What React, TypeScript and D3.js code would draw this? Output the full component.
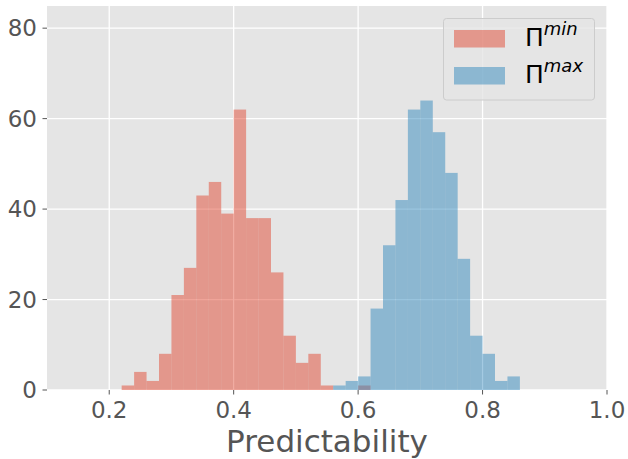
import React from "react";
import * as d3 from "d3";

// Histogram bin starts (bin width 0.02) and counts
const binWidth = 0.02;
const minBinStarts = [0.22, 0.24, 0.26, 0.28, 0.30, 0.32, 0.34, 0.36, 0.38, 0.40, 0.42, 0.44, 0.46, 0.48, 0.50, 0.52, 0.54, 0.56, 0.58, 0.60];
const minCounts = [1, 4, 2, 8, 21, 27, 43, 46, 39, 62, 38, 38, 26, 12, 6, 8, 1, 0, 0, 1];
const maxBinStarts = [0.56, 0.58, 0.60, 0.62, 0.64, 0.66, 0.68, 0.70, 0.72, 0.74, 0.76, 0.78, 0.80, 0.82, 0.84];
const maxCounts = [1, 2, 3, 18, 32, 42, 62, 64, 57, 48, 29, 12, 8, 2, 3];

const xTicks = [0.2, 0.4, 0.6, 0.8, 1.0];
const yTicks = [0, 20, 40, 60, 80];
const xDomain = [0.1, 1.0];
const yDomain = [0, 84.9];
const xLabel = "Predictability";
const seriesNames = ["min", "max"];
const seriesColors = ["#E24A33", "#348ABD"];

const W = 628;
const H = 459;
const left = 47;
const top = 6;
const right = 607;
const bottom = 390;
const FONT = "DejaVu Sans, sans-serif";

export default function App() {
  const x = d3.scaleLinear().domain(xDomain).range([left, right]);
  const y = d3.scaleLinear().domain(yDomain).range([bottom, top]);

  const series = [
    { starts: minBinStarts, counts: minCounts, color: seriesColors[0] },
    { starts: maxBinStarts, counts: maxCounts, color: seriesColors[1] },
  ];

  return (
    <svg
      width={W}
      height={H}
      style={{ position: "absolute", left: 0, top: 0, background: "#fff" }}
      fontFamily={FONT}
    >
      <rect x={left} y={top} width={right - left} height={bottom - top} fill="#E5E5E5" />
      {xTicks.map((t) => (
        <line key={"gx" + t} x1={x(t)} x2={x(t)} y1={top} y2={bottom} stroke="#fff" strokeWidth={1.3} />
      ))}
      {yTicks.map((t) => (
        <line key={"gy" + t} x1={left} x2={right} y1={y(t)} y2={y(t)} stroke="#fff" strokeWidth={1.3} />
      ))}
      {series.map((s, si) => (
        <g key={"s" + si}>
          {s.starts.map((b, i) =>
            s.counts[i] > 0 ? (
              <rect
                key={i}
                x={x(b)}
                y={y(s.counts[i])}
                width={x(b + binWidth) - x(b)}
                height={y(0) - y(s.counts[i])}
                fill={s.color}
                fillOpacity={0.5}
              />
            ) : null
          )}
        </g>
      ))}
      {/* axes ticks */}
      {xTicks.map((t) => (
        <g key={"tx" + t}>
          <line x1={x(t)} x2={x(t)} y1={bottom} y2={bottom + 4.5} stroke="#555" strokeWidth={1} />
          <text x={x(t)} y={418} textAnchor="middle" fontSize={23} fill="#555">
            {d3.format(".1f")(t)}
          </text>
        </g>
      ))}
      {yTicks.map((t) => (
        <g key={"ty" + t}>
          <line x1={left - 4.5} x2={left} y1={y(t)} y2={y(t)} stroke="#555" strokeWidth={1} />
          <text x={left - 10} y={y(t) + 8} textAnchor="end" fontSize={23} fill="#555">
            {t}
          </text>
        </g>
      ))}
      <text x={(left + right) / 2} y={451.5} textAnchor="middle" fontSize={31} fill="#555">
        {xLabel}
      </text>
      {/* legend */}
      <rect x={443.5} y={18.5} width={151} height={81.5} rx={3} fill="#E5E5E5" fillOpacity={0.8} stroke="#CCCCCC" strokeWidth={1} />
      {seriesNames.map((n, i) => (
        <g key={"l" + n}>
          <rect x={454} y={30 + i * 37} width={51} height={17.5} fill={seriesColors[i]} fillOpacity={0.5} />
          <text x={525} y={46 + i * 37} fontSize={25} fill="#000">
            Π
            <tspan fontStyle="italic" fontSize={18} dy={-11}>
              {n}
            </tspan>
          </text>
        </g>
      ))}
    </svg>
  );
}
